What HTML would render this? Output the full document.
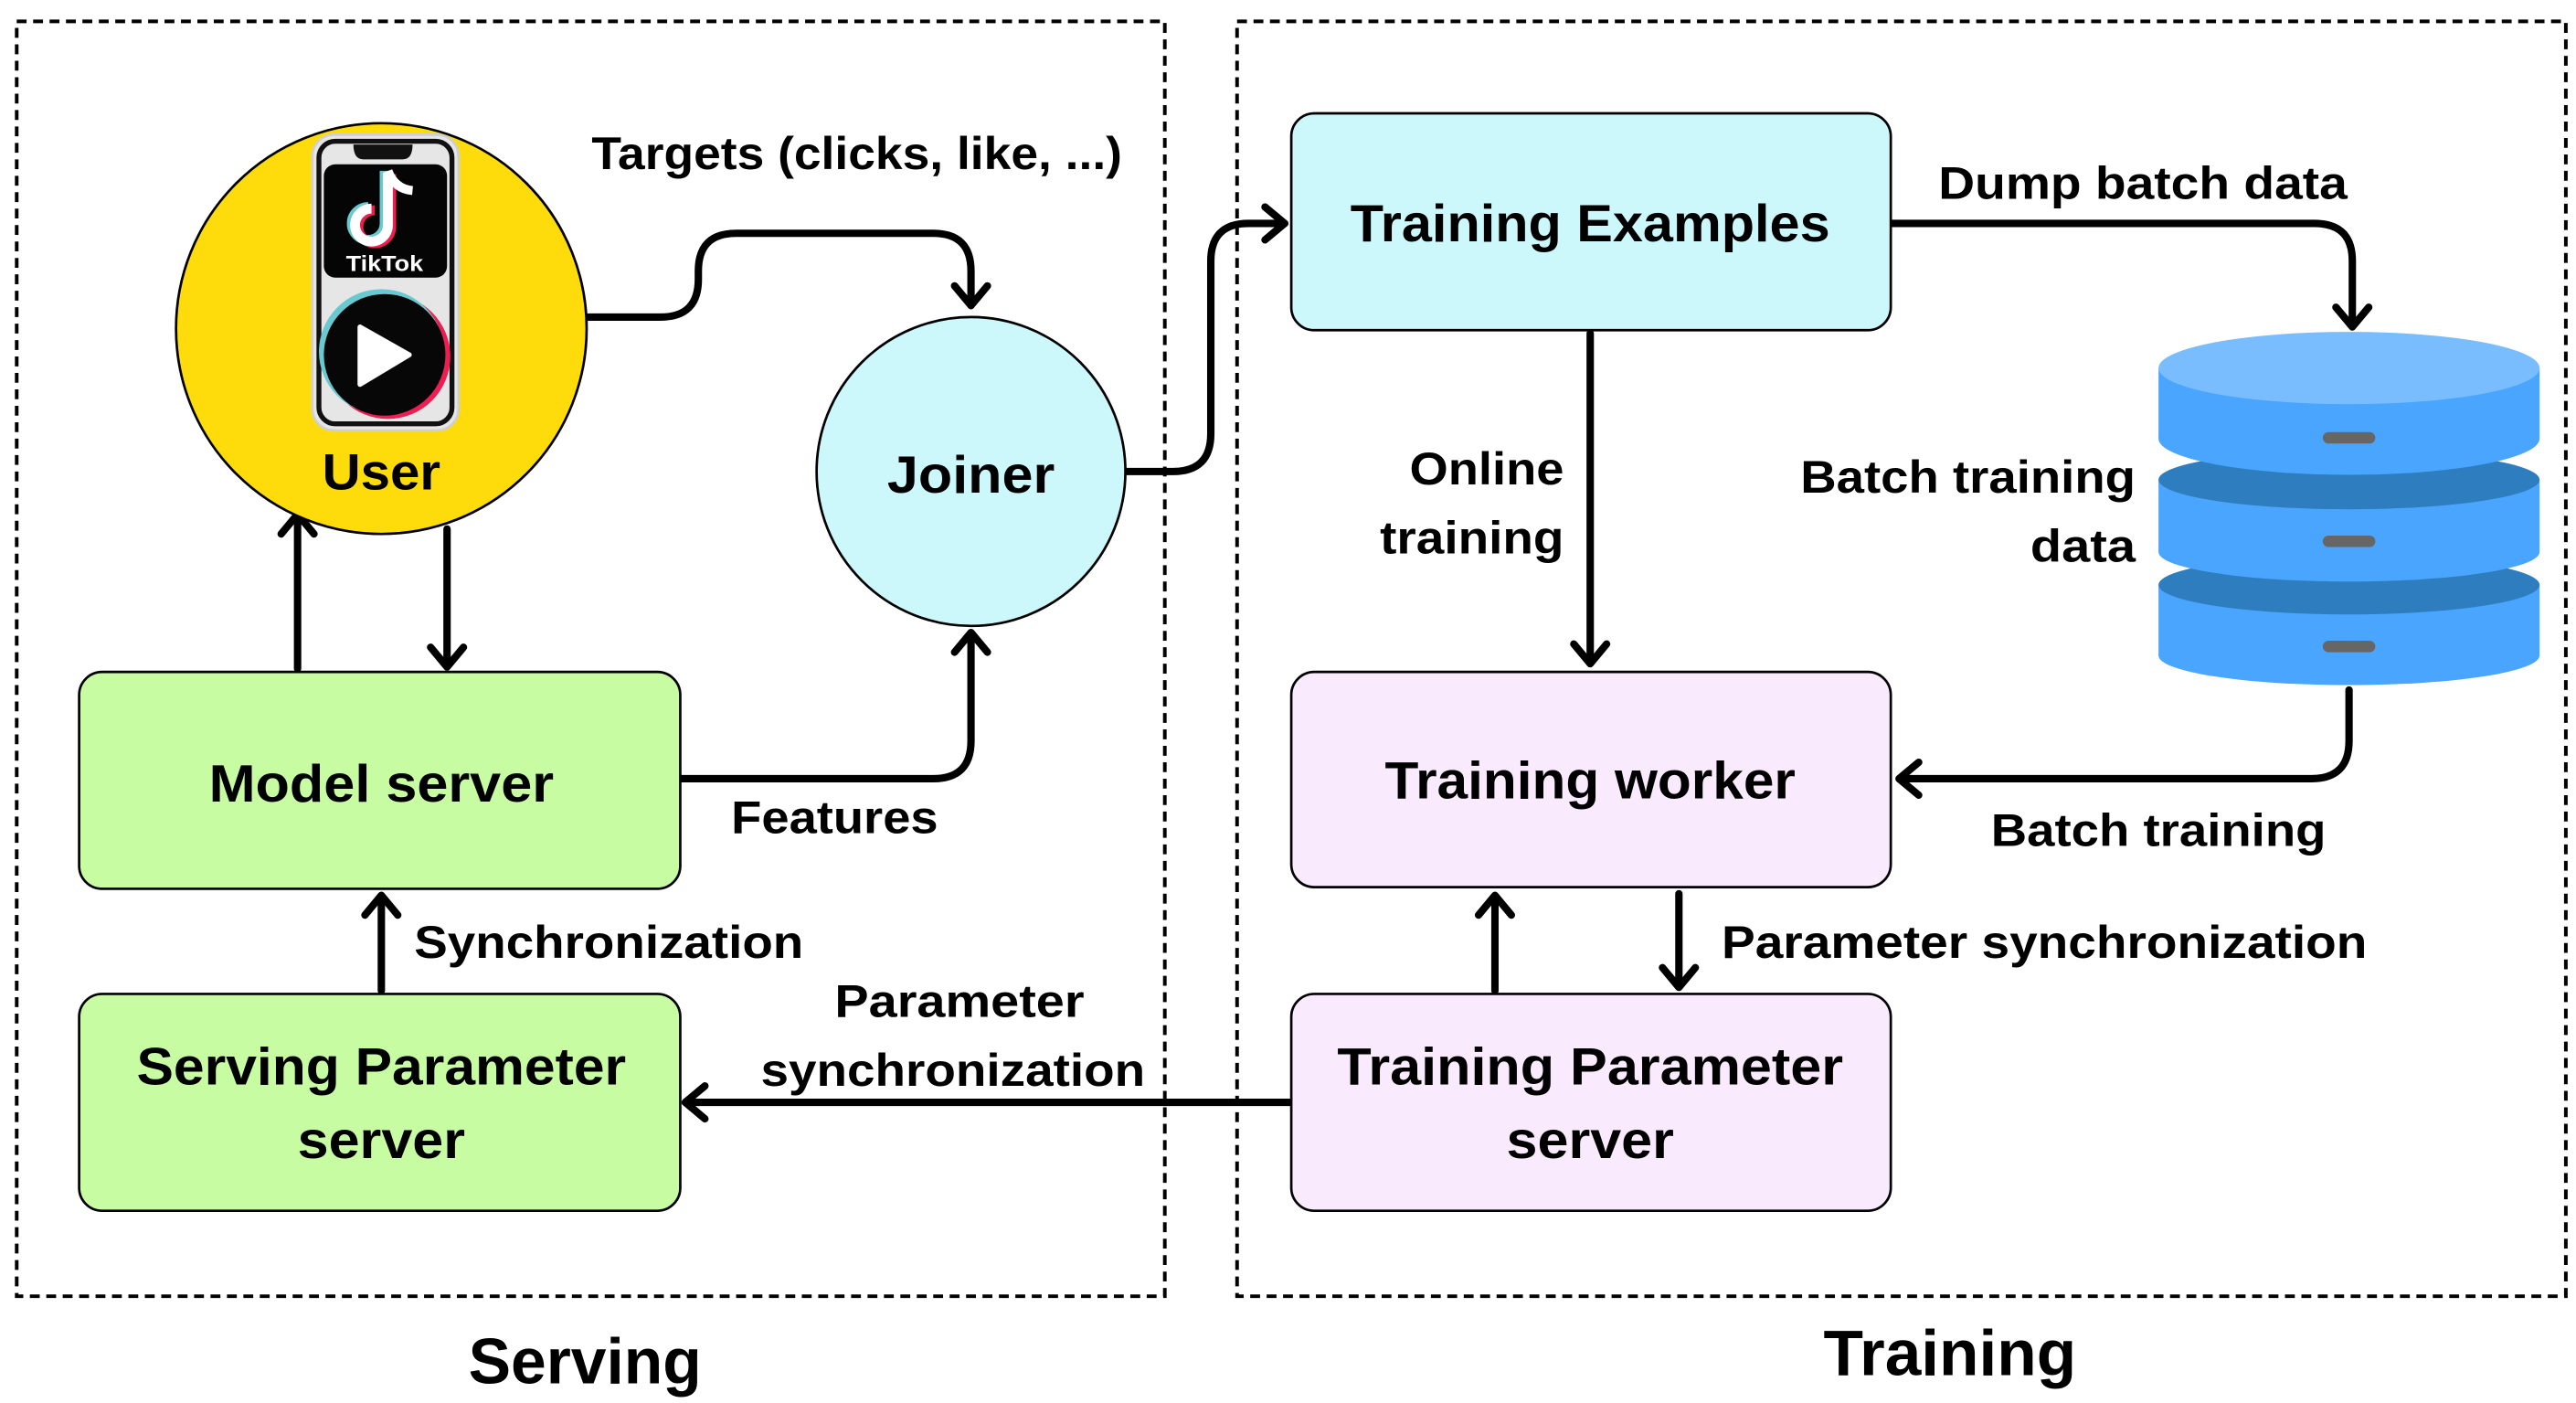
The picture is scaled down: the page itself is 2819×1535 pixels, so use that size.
<!DOCTYPE html>
<html><head><meta charset="utf-8"><style>
html,body{margin:0;padding:0;background:#fff;}
svg{display:block;}
text{font-family:"Liberation Sans",sans-serif;font-weight:bold;fill:#000;}
</style></head><body>
<svg width="2819" height="1535" viewBox="0 0 1568 854" xmlns="http://www.w3.org/2000/svg">
<rect width="1568" height="854" fill="#fff"/>
<rect x="10" y="13" width="699" height="776" fill="none" stroke="#000" stroke-width="2.2" stroke-dasharray="6,4"/>
<rect x="753" y="13" width="809" height="776" fill="none" stroke="#000" stroke-width="2.2" stroke-dasharray="6,4"/>

<g fill="none" stroke="#000" stroke-width="4.5" stroke-linecap="round" stroke-linejoin="round">
<path d="M358,193 H402 Q425,193 425,170 V165 Q425,142 448,142 H568 Q591,142 591,165 V186"/>
<polyline points="581,174 591,186 601,174"/>
<path d="M686,287 H714 Q737,287 737,264 V159 Q737,136 760,136 H782"/>
<polyline points="770,126 782,136 770,146"/>
<path d="M414,474 H568 Q591,474 591,451 V386"/>
<polyline points="581,397 591,385 601,397"/>
<path d="M181,407 V314"/><polyline points="171,325 181,313 191,325"/>
<path d="M272,322 V405"/><polyline points="262,394 272,406 282,394"/>
<path d="M232,603 V546"/><polyline points="222,557 232,545 242,557"/>
<path d="M786,671 H418"/><polyline points="429,661 417,671 429,681"/>
<path d="M968,203 V403"/><polyline points="958,392 968,404 978,392"/>
<path d="M1151,136 H1409 Q1432,136 1432,159 V198"/><polyline points="1422,187 1432,199 1442,187"/>
<path d="M1430,420 V451 Q1430,474 1407,474 H1157"/><polyline points="1168,464 1156,474 1168,484"/>
<path d="M910,603 V546"/><polyline points="900,557 910,545 920,557"/>
<path d="M1022,544 V600"/><polyline points="1012,589 1022,601 1032,589"/>
</g>

<circle cx="232" cy="200" r="125" fill="#fedc0b" stroke="#000" stroke-width="1.5"/>
<rect x="190" y="82" width="89" height="180" rx="13" fill="#e6e6e6" stroke="#cfcfcf" stroke-width="1.5"/>
<rect x="194" y="86" width="81" height="172" rx="10" fill="none" stroke="#111" stroke-width="3"/>
<path d="M215,88 H251 Q251,97 245,97 H221 Q215,97 215,88 Z" fill="#111"/>
<rect x="197" y="100" width="75" height="69" rx="7" fill="#050505"/>
<g fill="none" stroke-width="6">
<path d="M236,105 V137 A10,10 0 1 1 226,127" stroke="#69c9d0" transform="translate(-2,-1)"/>
<path d="M236,105 V137 A10,10 0 1 1 226,127" stroke="#ee1d52" transform="translate(2,1)"/>
<path d="M236,105 V137 A10,10 0 1 1 226,127" stroke="#fff"/>
<path d="M236,104 Q240,115 251,116" stroke="#fff" stroke-width="5.5"/>
</g>
<text x="234" y="165" font-size="13.5" text-anchor="middle" style="fill:#fff" textLength="47" lengthAdjust="spacingAndGlyphs">TikTok</text>
<circle cx="236" cy="217" r="38" fill="#ee1d52"/>
<circle cx="232" cy="214" r="38" fill="#69c9d0"/>
<circle cx="234" cy="216" r="37" fill="#070707"/>
<polygon points="219,199 219,234 249,216" fill="#fff" stroke="#fff" stroke-width="3" stroke-linejoin="round"/>
<text x="232" y="298" font-size="31" text-anchor="middle" textLength="72" lengthAdjust="spacingAndGlyphs">User</text>

<circle cx="591" cy="287" r="94" fill="#ccf8fc" stroke="#000" stroke-width="1.5"/>
<text x="591" y="300" font-size="32" text-anchor="middle" textLength="102" lengthAdjust="spacingAndGlyphs">Joiner</text>

<rect x="48" y="409" width="366" height="132" rx="14" fill="#c8fca2" stroke="#000" stroke-width="1.5"/>
<text x="232" y="488" font-size="32" text-anchor="middle" textLength="210" lengthAdjust="spacingAndGlyphs">Model server</text>
<rect x="48" y="605" width="366" height="132" rx="14" fill="#c8fca2" stroke="#000" stroke-width="1.5"/>
<text x="232" y="660" font-size="32" text-anchor="middle" textLength="298" lengthAdjust="spacingAndGlyphs">Serving Parameter</text>
<text x="232" y="705" font-size="32" text-anchor="middle" textLength="102" lengthAdjust="spacingAndGlyphs">server</text>

<rect x="786" y="69" width="365" height="132" rx="14" fill="#ccf8fc" stroke="#000" stroke-width="1.5"/>
<text x="968" y="147" font-size="32" text-anchor="middle" textLength="292" lengthAdjust="spacingAndGlyphs">Training Examples</text>
<rect x="786" y="409" width="365" height="131" rx="14" fill="#f9ebfd" stroke="#000" stroke-width="1.5"/>
<text x="968" y="486" font-size="32" text-anchor="middle" textLength="250" lengthAdjust="spacingAndGlyphs">Training worker</text>
<rect x="786" y="605" width="365" height="132" rx="14" fill="#f9ebfd" stroke="#000" stroke-width="1.5"/>
<text x="968" y="660" font-size="32" text-anchor="middle" textLength="308" lengthAdjust="spacingAndGlyphs">Training Parameter</text>
<text x="968" y="705" font-size="32" text-anchor="middle" textLength="102" lengthAdjust="spacingAndGlyphs">server</text>

<g>
<rect x="1314" y="356" width="232" height="43" fill="#4aa5fe"/>
<ellipse cx="1430" cy="399" rx="116" ry="18" fill="#4aa5fe"/>
<ellipse cx="1430" cy="356" rx="116" ry="18" fill="#2e7dbf"/>
<rect x="1314" y="292" width="232" height="44" fill="#4aa5fe"/>
<ellipse cx="1430" cy="336" rx="116" ry="18" fill="#4aa5fe"/>
<ellipse cx="1430" cy="292" rx="116" ry="18" fill="#2e7dbf"/>
<rect x="1314" y="224" width="232" height="43" fill="#4aa5fe"/>
<ellipse cx="1430" cy="267" rx="116" ry="22" fill="#4aa5fe"/>
<ellipse cx="1430" cy="224" rx="116" ry="22" fill="#7abdfe"/>
<rect x="1414" y="263" width="32" height="7" rx="3.5" fill="#666"/>
<rect x="1414" y="326" width="32" height="7" rx="3.5" fill="#666"/>
<rect x="1414" y="390" width="32" height="7" rx="3.5" fill="#666"/>
</g>

<text x="360" y="103" font-size="28" textLength="323" lengthAdjust="spacingAndGlyphs">Targets (clicks, like, ...)</text>
<text x="445" y="507" font-size="28" textLength="126" lengthAdjust="spacingAndGlyphs">Features</text>
<text x="252" y="583" font-size="28" textLength="237" lengthAdjust="spacingAndGlyphs">Synchronization</text>
<text x="508" y="619" font-size="28" textLength="152" lengthAdjust="spacingAndGlyphs">Parameter</text>
<text x="463" y="661" font-size="28" textLength="234" lengthAdjust="spacingAndGlyphs">synchronization</text>
<text x="858" y="295" font-size="28" textLength="94" lengthAdjust="spacingAndGlyphs">Online</text>
<text x="840" y="337" font-size="28" textLength="112" lengthAdjust="spacingAndGlyphs">training</text>
<text x="1180" y="121" font-size="28" textLength="249" lengthAdjust="spacingAndGlyphs">Dump batch data</text>
<text x="1096" y="300" font-size="28" textLength="204" lengthAdjust="spacingAndGlyphs">Batch training</text>
<text x="1236" y="342" font-size="28" textLength="64" lengthAdjust="spacingAndGlyphs">data</text>
<text x="1212" y="515" font-size="28" textLength="204" lengthAdjust="spacingAndGlyphs">Batch training</text>
<text x="1048" y="583" font-size="28" textLength="393" lengthAdjust="spacingAndGlyphs">Parameter synchronization</text>
<text x="285" y="842" font-size="39" textLength="142" lengthAdjust="spacingAndGlyphs">Serving</text>
<text x="1110" y="837" font-size="39" textLength="154" lengthAdjust="spacingAndGlyphs">Training</text>
</svg>
</body></html>
